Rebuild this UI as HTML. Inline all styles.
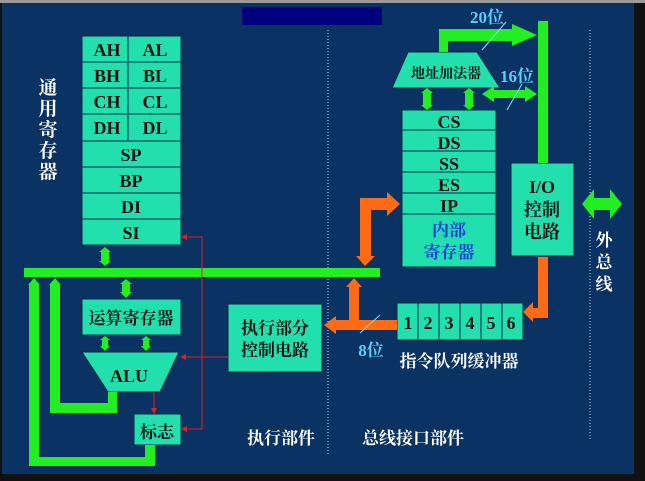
<!DOCTYPE html>
<html><head><meta charset="utf-8"><style>
html,body{margin:0;padding:0;background:#000;}
svg{display:block;}
.l{font-family:"Liberation Serif",serif;font-weight:bold;font-size:18px;fill:#111;}
.c{font-family:"Liberation Serif","Noto Serif CJK SC",serif;font-weight:bold;font-size:17px;}
</style></head><body>
<svg width="645" height="481" viewBox="0 0 645 481" xmlns="http://www.w3.org/2000/svg">
<rect x="0" y="0" width="645" height="481" fill="#111"/>
<rect x="0" y="0" width="645" height="3" fill="#9a9a9a"/>
<rect x="2" y="3" width="632" height="471" fill="#0a3262"/>
<rect x="242" y="7" width="140" height="18" fill="#00007e"/>
<line x1="328" y1="30" x2="328" y2="455" stroke="#cfd8e6" stroke-width="1" stroke-dasharray="1,2"/>
<line x1="590" y1="30" x2="590" y2="440" stroke="#cfd8e6" stroke-width="1" stroke-dasharray="1,2"/>

<g fill="#22dfae" stroke="#0b2a48" stroke-width="1">
<rect x="82" y="36" width="99" height="209"/>
<line x1="128" y1="36" x2="128" y2="141"/>
<line x1="82" y1="62" x2="181" y2="62"/><line x1="82" y1="88" x2="181" y2="88"/>
<line x1="82" y1="114" x2="181" y2="114"/><line x1="82" y1="141" x2="181" y2="141"/>
<line x1="82" y1="167" x2="181" y2="167"/><line x1="82" y1="193" x2="181" y2="193"/>
<line x1="82" y1="219" x2="181" y2="219"/>
<rect x="82" y="299" width="99" height="36"/>
<polygon points="82,352 179,352 160,392 108,392"/>
<rect x="134" y="414" width="47" height="31"/>
<rect x="228" y="304" width="94" height="68"/>
<rect x="397" y="303" width="126" height="37"/>
<line x1="418" y1="303" x2="418" y2="340"/><line x1="439" y1="303" x2="439" y2="340"/>
<line x1="460" y1="303" x2="460" y2="340"/><line x1="481" y1="303" x2="481" y2="340"/>
<line x1="502" y1="303" x2="502" y2="340"/>
<rect x="402" y="110" width="94" height="157"/>
<line x1="402" y1="130" x2="496" y2="130"/><line x1="402" y1="151" x2="496" y2="151"/>
<line x1="402" y1="172" x2="496" y2="172"/><line x1="402" y1="193" x2="496" y2="193"/>
<line x1="402" y1="214" x2="496" y2="214"/>
<polygon points="408,52 477,52 500,88 392,88"/>
<rect x="511" y="163" width="63" height="93"/>
</g>

<g fill="#22ee22">
<rect x="24" y="268" width="356" height="9"/>
<polygon points="105,247 111,252 109,252 109,261 111,261 105,266 99,261 101,261 101,252 99,252"/>
<polygon points="126,279 132,284 130,284 130,292 132,292 126,298 120,292 122,292 122,284 120,284"/>
<polygon points="105,336 110,340 108,340 108,346 110,346 105,351 100,346 102,346 102,340 100,340"/>
<polygon points="146,336 151,340 149,340 149,346 151,346 146,351 141,346 143,346 143,340 141,340"/>
<rect x="108" y="392" width="9" height="21"/>
<rect x="50" y="403" width="67" height="10"/>
<rect x="50" y="284" width="10" height="129"/>
<polygon points="55,278 61,285 49,285"/>
<rect x="29" y="284" width="10" height="182"/>
<polygon points="34,278 40,285 28,285"/>
<rect x="29" y="457" width="126" height="9"/>
<rect x="145" y="445" width="10" height="21"/>
<rect x="439" y="30" width="9" height="22"/>
<rect x="439" y="29" width="75" height="12"/>
<polygon points="512,24 537,35 512,46"/>
<rect x="538" y="21" width="10" height="142"/>
<polygon points="482,94 494,86 494,90 525,90 525,86 537,94 525,102 525,98 494,98 494,102"/>
<polygon points="427,88 433,93 431,93 431,105 433,105 427,110 421,105 423,105 423,93 421,93"/>
<polygon points="469,88 475,93 473,93 473,105 475,105 469,110 463,105 465,105 465,93 463,93"/>
<polygon points="582,204 594,189 594,198 610,198 610,189 622,204 610,219 610,210 594,210 594,219"/>
</g>

<g fill="#ff6a14">
<rect x="360" y="198" width="11" height="60"/>
<rect x="360" y="198" width="28" height="12"/>
<polygon points="387,192 400,204 387,216"/>
<polygon points="356,256 375,256 365,266"/>
<rect x="349" y="286" width="10" height="38"/>
<polygon points="354,278 362,287 346,287"/>
<rect x="336" y="320" width="61" height="10"/>
<polygon points="336,316 336,334 324,325"/>
<rect x="538" y="257" width="10" height="61"/>
<rect x="533" y="308" width="15" height="10"/>
<polygon points="533,302 533,322 523,312"/>
</g>

<g stroke="#e02020" stroke-width="1" fill="none">
<polyline points="184,237 202,237 202,429 184,429"/>
<line x1="184" y1="357" x2="228" y2="357"/>
<line x1="154" y1="392" x2="154" y2="410"/>
</g>
<g fill="#e02020">
<polygon points="181,237 187,234 187,240"/>
<polygon points="181,429 187,426 187,432"/>
<polygon points="180,357 186,354 186,360"/>
<polygon points="154,414 151,408 157,408"/>
</g>
<g stroke="#7fe0ff" stroke-width="1">
<line x1="482" y1="50" x2="506" y2="22"/>
<line x1="507" y1="110" x2="522" y2="84"/>
<line x1="360" y1="333" x2="380" y2="315"/>
</g>

<g class="l" text-anchor="middle">
<text x="107" y="56">AH</text><text x="155" y="56">AL</text>
<text x="107" y="82">BH</text><text x="155" y="82">BL</text>
<text x="107" y="108">CH</text><text x="155" y="108">CL</text>
<text x="107" y="134">DH</text><text x="155" y="134">DL</text>
<text x="131" y="161">SP</text><text x="131" y="187">BP</text>
<text x="131" y="213">DI</text><text x="131" y="239">SI</text>
<text x="129" y="382">ALU</text>
<text x="449" y="128">CS</text><text x="449" y="149">DS</text><text x="449" y="170">SS</text>
<text x="449" y="191">ES</text><text x="449" y="212">IP</text>
<text x="542" y="193">I/O</text>
<text x="408" y="329">1</text><text x="428" y="329">2</text><text x="449" y="329">3</text>
<text x="470" y="329">4</text><text x="491" y="329">5</text><text x="511" y="329">6</text>
</g>
<g class="c" text-anchor="middle" fill="#111">
<text x="131" y="324">运算寄存器</text>
<text x="157" y="438">标志</text>
<text x="275" y="334">执行部分</text>
<text x="275" y="356">控制电路</text>
<text x="446" y="78" font-size="14">地址加法器</text>
<text x="542" y="216" font-size="18">控制</text>
<text x="542" y="238" font-size="18">电路</text>
</g>
<g class="c" text-anchor="middle" fill="#1a3ad8">
<text x="449" y="236">内部</text>
<text x="449" y="258">寄存器</text>
</g>
<g class="c" text-anchor="middle" fill="#ffffff" font-size="18">
<text x="48" y="94" font-size="19">通</text><text x="48" y="115" font-size="19">用</text><text x="48" y="136" font-size="19">寄</text>
<text x="48" y="157" font-size="19">存</text><text x="48" y="178" font-size="19">器</text>
<text x="604" y="246">外</text><text x="604" y="268">总</text><text x="604" y="290">线</text>
<text x="459" y="367">指令队列缓冲器</text>
<text x="281" y="444">执行部件</text>
<text x="413" y="444">总线接口部件</text>
</g>
<g class="c" text-anchor="middle" fill="#5ad0ff">
<text x="487" y="23">20位</text>
<text x="517" y="82">16位</text>
<text x="371" y="356">8位</text>
</g>
</svg>
</body></html>
